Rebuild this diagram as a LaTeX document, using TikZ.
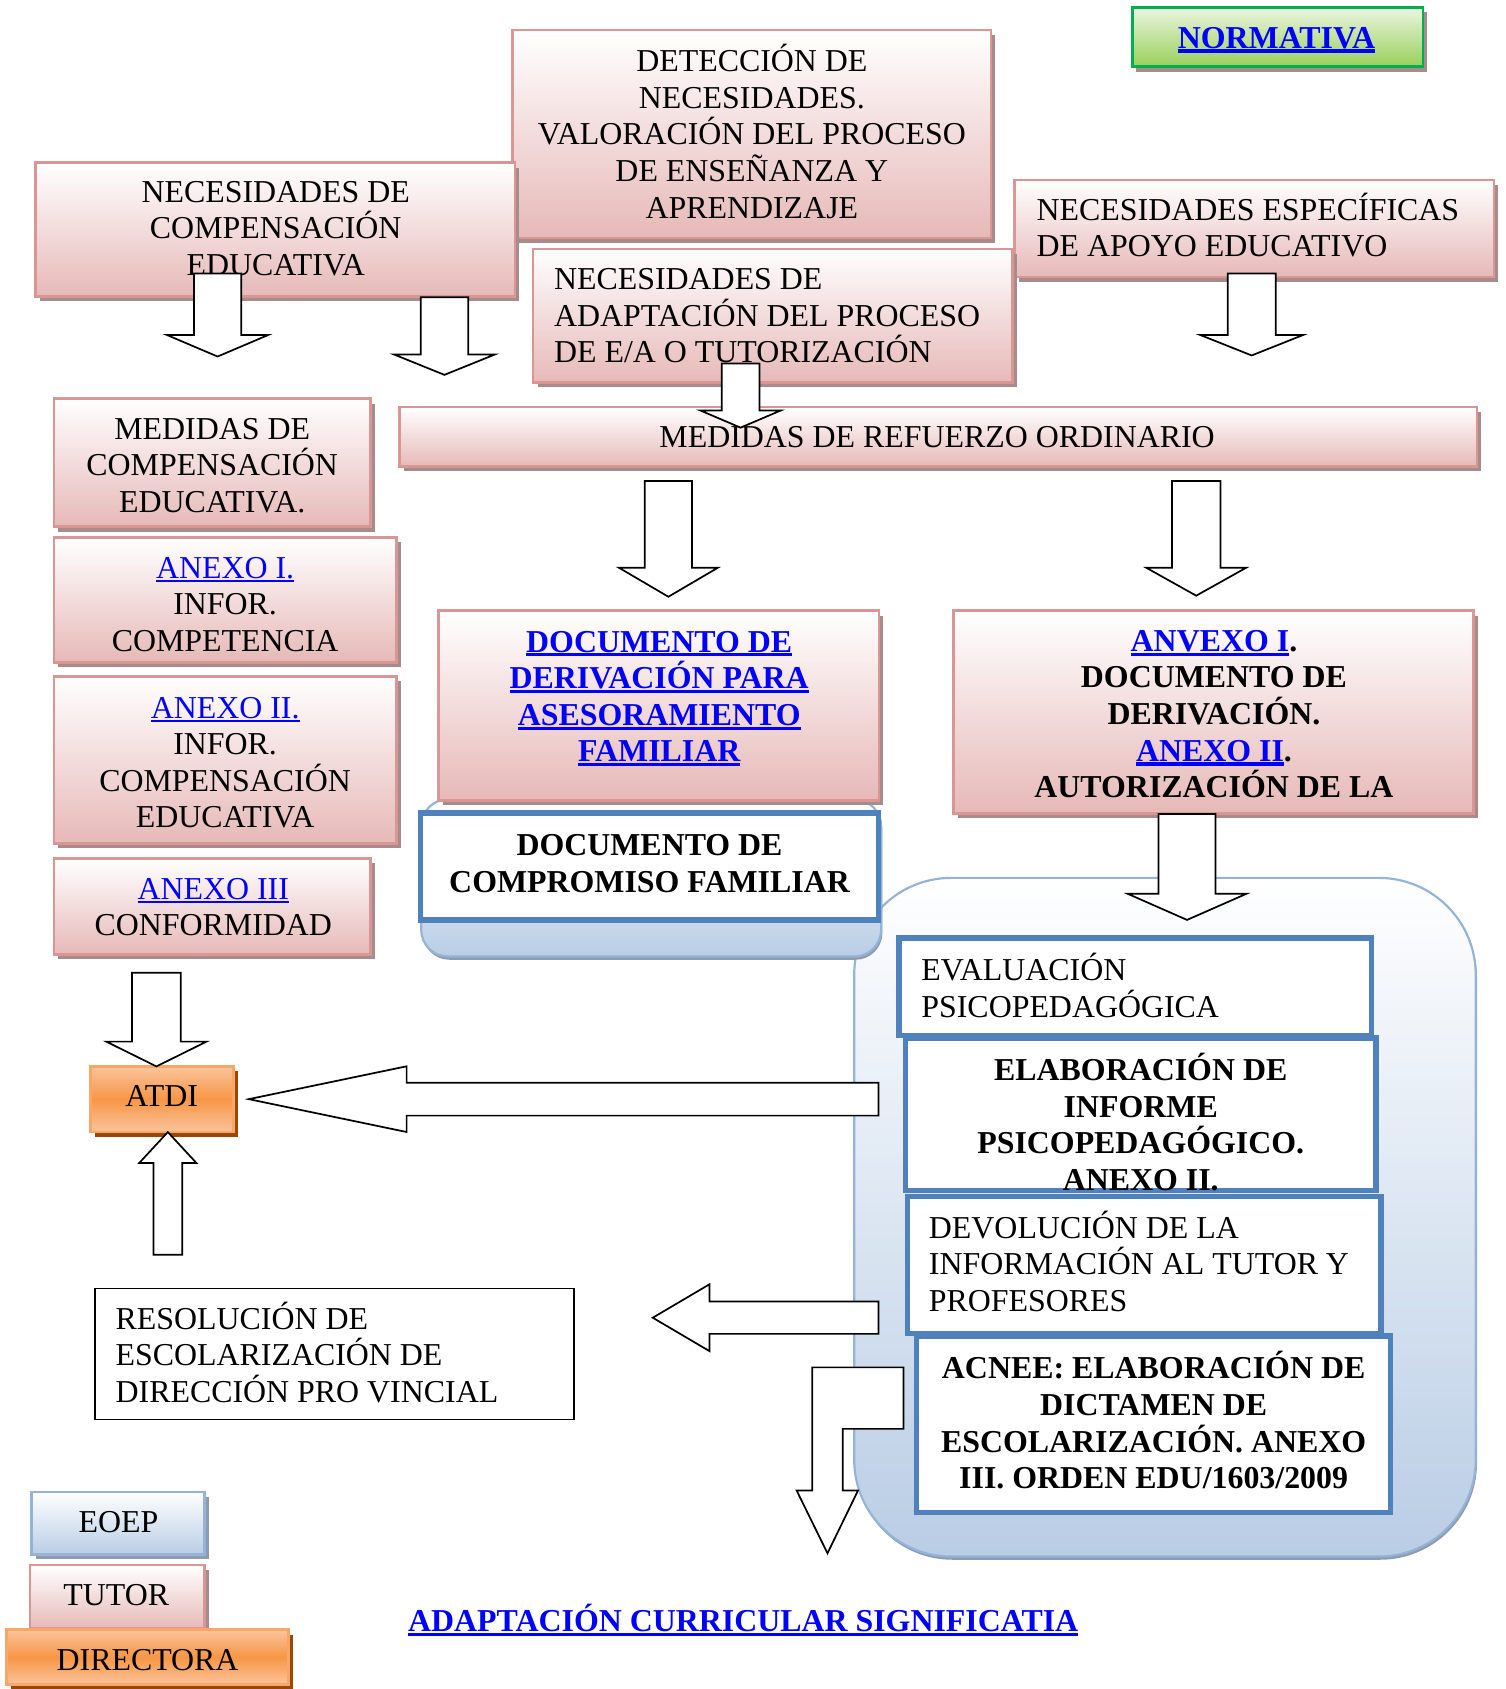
\documentclass[tikz,border=0pt]{standalone}
\usepackage{fontspec}
\setmainfont{Liberation Serif}
\usetikzlibrary{shadows}
\definecolor{pinkF}{HTML}{E6B9B8}
\definecolor{pinkB}{HTML}{D99694}
\definecolor{pinkS}{HTML}{A88B8B}
\definecolor{linkblue}{HTML}{0000FF}
\definecolor{blueB}{HTML}{4F81BD}
\definecolor{blueL}{HTML}{B9CDE5}
\definecolor{blueE}{HTML}{95B3D7}
\definecolor{blueS}{HTML}{8E9CB2}
\definecolor{orangeM}{HTML}{F79646}
\definecolor{orangeL}{HTML}{FBC49C}
\definecolor{orangeB}{HTML}{F9A767}
\definecolor{orangeS}{HTML}{984807}
\definecolor{greenB}{HTML}{00B050}
\definecolor{greenL}{HTML}{EBF5DF}
\definecolor{greenD}{HTML}{98D05A}
\newcommand\lnk[2][1.1pt]{\setbox0\hbox{#2}\leavevmode\rlap{\color{linkblue}\rule[-2pt]{\wd0}{#1}}{\color{linkblue}#2}}
\newcommand\mkbox[6]{\node[#1, minimum width={(#4-#2)*0.5pt}, minimum height={(#5-#3)*0.5pt}] (#6) at ({(#2+#4)/2},{(#3+#5)/2}) {};}
\newcommand\darr[6]{\draw[barrow] ({#1-#3},#2) -- ({#1+#3},#2) -- ({#1+#3},#4) -- ({#1+#5},#4) -- (#1,#6) -- ({#1-#5},#4) -- ({#1-#3},#4) -- cycle;}
\newcommand\larr[6]{\draw[barrow] (#2,{#1-#3}) -- (#4,{#1-#3}) -- (#4,{#1-#5}) -- (#6,#1) -- (#4,{#1+#5}) -- (#4,{#1+#3}) -- (#2,{#1+#3}) -- cycle;}
\tikzset{
  base/.style={inner sep=0pt, outer sep=0pt, rectangle},
  pinkbox/.style={base, draw=pinkB, line width=1.2pt, top color=white, bottom color=pinkF,
    drop shadow={shadow xshift=2pt, shadow yshift=-2.3pt, fill=pinkS, opacity=1}},
  orangebox/.style={base, draw=orangeB, line width=1.2pt, top color=orangeL, bottom color=orangeL, middle color=orangeM,
    drop shadow={shadow xshift=2pt, shadow yshift=-2.3pt, fill=orangeS, opacity=1}},
  bluegbox/.style={base, draw=blueE, line width=1.2pt, top color=white, bottom color=blueL,
    drop shadow={shadow xshift=2pt, shadow yshift=-2.3pt, fill=blueS, opacity=1}},
  greenbox/.style={base, draw=greenB, line width=1.3pt, top color=greenL, bottom color=greenD,
    drop shadow={shadow xshift=2pt, shadow yshift=-2.3pt, fill=pinkS, opacity=1}},
  thickbox/.style={base, draw=blueB, line width=2.6pt, fill=white},
  plainbox/.style={base, draw=black, line width=0.7pt, fill=white},
  roundbg/.style={base, draw=blueE, line width=1pt, top color=white, bottom color=blueL,
    drop shadow={shadow xshift=0.6pt, shadow yshift=-1.5pt, fill=blueS, opacity=1}},
  barrow/.style={draw=black, fill=white, line width=0.8pt, line join=miter},
  txt/.style={inner sep=0pt, align=center, font=\fontsize{14.8}{17}\selectfont},
  txtb/.style={txt, font=\fontsize{14.8}{17}\selectfont\bfseries},
  one/.style={text height=9.8pt, text depth=0pt},
}
\begin{document}
\begin{tikzpicture}[x=0.5pt, y=-0.5pt]
\useasboundingbox (0,0) rectangle (1398,1568);
\fill[white] (0,0) rectangle (1398,1568);

% background rounded panels
\node[roundbg, rounded corners=45pt, minimum width={(1370-793)*0.5pt}, minimum height={(1445-815)*0.5pt}] (panel) at ({(793+1370)/2},{(815+1445)/2}) {};
\node[roundbg, rounded corners=12.5pt, minimum width={(818-391)*0.5pt}, minimum height={(888-742)*0.5pt}] (cpanel) at ({(391+818)/2},{(742+888)/2}) {};

% pink boxes
\mkbox{pinkbox}{476}{28}{920}{221}{det}
\mkbox{pinkbox}{33}{151}{478}{275}{necc}
\mkbox{pinkbox}{942}{167}{1387}{257}{nesp}
\mkbox{pinkbox}{495}{231}{940}{355}{nadap}
\mkbox{pinkbox}{371}{378}{1371}{433}{mref}
\mkbox{pinkbox}{50}{370}{344}{489}{mcomp}
\mkbox{pinkbox}{50}{499}{368}{615}{ax1}
\mkbox{pinkbox}{50}{628}{368}{783}{ax2}
\mkbox{pinkbox}{50}{797}{344}{886}{ax3}
\mkbox{pinkbox}{407}{567}{816}{743}{docd}
\mkbox{pinkbox}{885}{567}{1368}{755}{anv}
\mkbox{greenbox}{1051}{7}{1321}{62}{norm}
\mkbox{bluegbox}{29}{1385}{190}{1443}{eoep}
\mkbox{pinkbox}{28}{1453}{190}{1512}{tutor}
\mkbox{orangebox}{6}{1513}{268}{1564}{dir}
\mkbox{orangebox}{84}{990}{217}{1051}{atdi}
\mkbox{plainbox}{88}{1196}{533}{1318}{resol}

% thick blue boxes
\mkbox{thickbox}{390.5}{755}{815.5}{854}{compr}
\mkbox{thickbox}{834.5}{870.8}{1273.2}{961.2}{eval}
\mkbox{thickbox}{840.8}{963.8}{1277.2}{1105.2}{elab}
\mkbox{thickbox}{842.4}{1110.8}{1282.2}{1238}{devol}
\mkbox{thickbox}{850.8}{1240.3}{1290.9}{1404.2}{acnee}

% texts
\node[txt] (t-det) at (698,122) {DETECCIÓN DE\\NECESIDADES.\\VALORACIÓN DEL PROCESO\\DE ENSEÑANZA Y\\APRENDIZAJE};
\node[txt] (t-necc) at (256,212) {NECESIDADES DE\\COMPENSACIÓN\\EDUCATIVA};
\node[txt, align=left, anchor=west] (t-nesp) at (962,209) {NECESIDADES ESPECÍFICAS\\DE APOYO EDUCATIVO};
\node[txt, align=left, anchor=west] (t-nadap) at (514,293) {NECESIDADES DE\\ADAPTACIÓN DEL PROCESO\\DE E/A O TUTORIZACIÓN};
\node[txt, one] (t-mref) at (870,406) {MEDIDAS DE REFUERZO ORDINARIO};
\node[txt] (t-mcomp) at (197,432) {MEDIDAS DE\\COMPENSACIÓN\\EDUCATIVA.};
\node[txt] (t-ax1) at (209,561) {\lnk{ANEXO I.}\\INFOR.\\COMPETENCIA};
\node[txt] (t-ax2) at (209,708) {\lnk{ANEXO II.}\\INFOR.\\COMPENSACIÓN\\EDUCATIVA};
\node[txt] (t-ax3) at (198,842) {\lnk{ANEXO III}\\CONFORMIDAD};
\node[txtb] (t-docd) at (612,648.5) {\lnk[1.4pt]{DOCUMENTO DE}\\\lnk[1.4pt]{DERIVACIÓN PARA}\\\lnk[1.4pt]{ASESORAMIENTO}\\\lnk[1.4pt]{FAMILIAR}};
\node[txtb] (t-anv) at (1127,663) {\lnk[1.4pt]{ANVEXO I}.\\DOCUMENTO DE\\DERIVACIÓN.\\\lnk[1.4pt]{ANEXO II}.\\AUTORIZACIÓN DE LA};
\node[txtb] (t-compr) at (603,802) {DOCUMENTO DE\\COMPROMISO FAMILIAR};
\node[txt, align=left, anchor=west] (t-eval) at (855,915) {EVALUACIÓN\\PSICOPEDAGÓGICA};
\node[txtb] (t-elab) at (1059,1041.5) {ELABORACIÓN DE\\INFORME\\PSICOPEDAGÓGICO.\\ANEXO II.};
\node[txt, align=left, anchor=west] (t-devol) at (862,1171) {DEVOLUCIÓN DE LA\\INFORMACIÓN AL TUTOR Y\\PROFESORES};
\node[txtb] (t-acnee) at (1071,1318.5) {ACNEE: ELABORACIÓN DE\\DICTAMEN DE\\ESCOLARIZACIÓN. ANEXO\\III. ORDEN EDU/1603/2009};
\node[txt, one] (t-atdi) at (150,1017) {ATDI};
\node[txt, align=left, anchor=west] (t-resol) at (107,1255.5) {RESOLUCIÓN DE\\ESCOLARIZACIÓN DE\\DIRECCIÓN PRO VINCIAL};
\node[txt, one] (t-eoep) at (110,1413) {EOEP};
\node[txt, one] (t-tutor) at (108,1481) {TUTOR};
\node[txt, one] (t-dir) at (137,1541) {DIRECTORA};
\node[txtb, one] (t-norm) at (1185,35) {\lnk[1.8pt]{NORMATIVA}};
\node[txtb, one] (t-adapt) at (690,1505) {\lnk[1.5pt]{ADAPTACIÓN CURRICULAR SIGNIFICATIA}};

% block arrows
\darr{202}{254}{22}{311}{47}{331}
\darr{412.6}{276}{22}{329}{47}{348}
\darr{687.5}{337.5}{17.5}{381}{37.5}{397}
\darr{620.5}{446.5}{22}{527}{46}{554}
\darr{1110.5}{446.5}{22.5}{527}{46.5}{553}
\darr{1162}{254}{22.3}{311}{47.7}{330}
\darr{1102}{755.6}{26.5}{829.8}{55}{854}
\darr{145.2}{903}{22.7}{967}{46.5}{990}
\darr{155.8}{1164.8}{13.3}{1079.6}{26.5}{1051}
\larr{1020.4}{815.5}{15.3}{377.5}{30.5}{231}
\larr{1223.3}{815.5}{15}{658.6}{31}{606}
\draw[barrow] (838.7,1269.4) -- (754,1269.4) -- (754,1383.8) -- (739.6,1383.8) -- (768.2,1442) -- (796.5,1383.8) -- (782.3,1383.8) -- (782.3,1326.5) -- (838.7,1326.5) -- cycle;
\end{tikzpicture}
\end{document}
